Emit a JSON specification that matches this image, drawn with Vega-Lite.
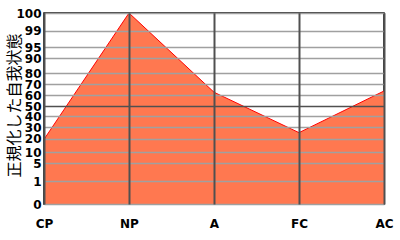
{
  "$schema": "https://vega.github.io/schema/vega-lite/v6.json",
  "autosize": "none",
  "width": 340,
  "height": 191,
  "padding": {"left": 44, "top": 13, "right": 16, "bottom": 36},
  "background": "white",
  "config": {
    "view": {"stroke": "black", "strokeWidth": 1.5},
    "axis": {"labelFont": "DejaVu Sans", "labelFontWeight": "bold", "labelColor": "black", "domain": false, "ticks": false}
  },
  "data": {
    "values": [
      {"state": "CP", "score": 19.5},
      {"state": "NP", "score": 100},
      {"state": "A", "score": 62.7},
      {"state": "FC", "score": 25.3},
      {"state": "AC", "score": 63.8}
    ]
  },
  "mark": {"type": "area", "color": "#FF7850", "opacity": 1, "fillOpacity": 1, "line": {"color": "#FF0000", "strokeWidth": 1}},
  "encoding": {
    "x": {
      "field": "state", "type": "nominal", "sort": null,
      "scale": {"type": "point", "padding": 0},
      "axis": {"title": null, "labelAngle": 0, "labelFontSize": 12, "labelPadding": 14, "labelBaseline": "top",
        "grid": true, "gridColor": "#505050", "gridWidth": 2, "zindex": 2}
    },
    "y": {
      "field": "score", "type": "quantitative",
      "scale": {"type": "linear", "domain": [0, 1, 5, 10, 20, 30, 40, 50, 60, 70, 80, 90, 95, 99, 100],
        "range": [191.3, 168.3, 150.3, 139.3, 125.7, 114.3, 103.3, 93, 82.3, 71, 60, 45.3, 34.3, 17.7, 0], "clamp": true, "nice": false, "zero": false},
      "axis": {
        "zindex": 1,
        "title": "正規化した自我状態", "titleFont": "Noto Sans CJK JP", "titleFontSize": 16, "titleFontWeight": "normal",
        "titleAngle": -90, "titleX": -30, "titleY": 92, "titleAlign": "center", "titleBaseline": "middle",
        "values": [0, 1, 5, 10, 20, 30, 40, 50, 60, 70, 80, 90, 95, 99, 100],
        "labelFontSize": 12, "labelPadding": 3, "labelOverlap": false, "labelBaseline": "middle",
        "grid": true, "gridWidth": 1.5,
        "gridColor": {"condition": {"test": "datum.value === 50", "value": "#505050"}, "value": "#A0A0A0"}
      }
    }
  }
}
